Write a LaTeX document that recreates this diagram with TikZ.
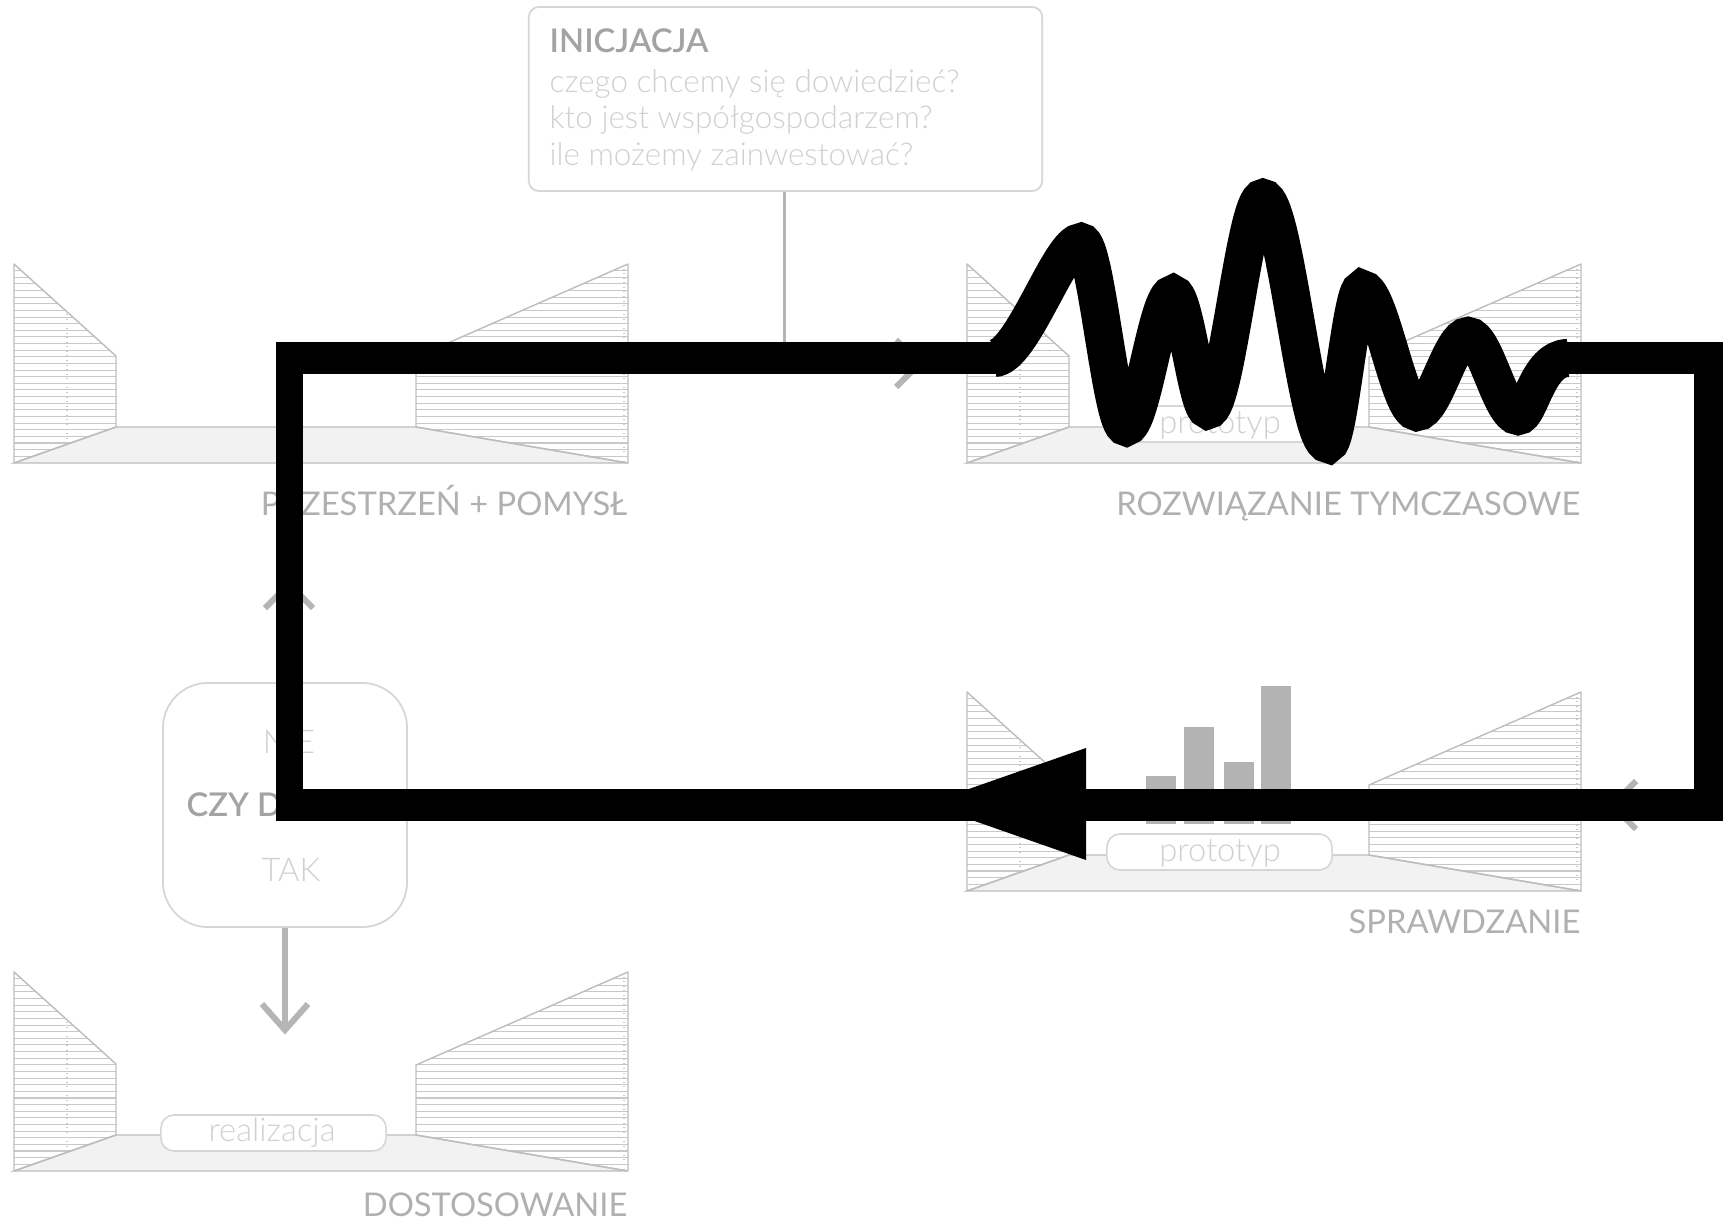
\documentclass[tikz,border=0pt]{standalone}
\usepackage{fontspec}
\setmainfont{Lato}
\newfontfamily\latolight{Lato Light}
\newfontfamily\latosemi{Lato Semibold}
\usetikzlibrary{calc}
\definecolor{cRoom}{HTML}{BDBDBD}
\definecolor{cHatch}{HTML}{C8C8C8}
\definecolor{cFloor}{HTML}{F2F2F2}
\definecolor{cLabel}{HTML}{B0B0B0}
\definecolor{cHead}{HTML}{A3A3A3}
\definecolor{cLight}{HTML}{D0D0D0}
\definecolor{cBox}{HTML}{D6D6D6}
\definecolor{cArrow}{HTML}{B5B5B5}
\definecolor{cBar}{HTML}{B3B3B3}

\newcommand\roomdraw[2]{%
\begin{scope}[shift={(#1,#2)}]
  \begin{scope}
    \clip (0,0) -- (102,92) -- (102,163) -- (0,199) -- cycle;
    \foreach \k in {1,...,30} \draw[hatchline] (0,\k*6.63) -- (102,\k*6.63);
    \draw[hatchline,densely dotted] (53,0) -- (53,199);
  \end{scope}
  \begin{scope}
    \clip (614,0) -- (402,93) -- (402,163) -- (614,199) -- cycle;
    \foreach \k in {1,...,30} \draw[hatchline] (402,\k*6.63) -- (614,\k*6.63);
    \draw[hatchline,densely dotted] (610,0) -- (610,199);
  \end{scope}
  \path[floorfill] (102,163) -- (402,163) -- (614,199) -- (0,199) -- cycle;
  \draw[roomline] (0,0) -- (102,92) -- (102,163) -- (0,199) -- cycle;
  \draw[roomline] (614,0) -- (402,93) -- (402,163) -- (614,199) -- cycle;
\end{scope}}

\begin{document}
\begin{tikzpicture}[x=0.01cm,y=-0.01cm,
  roomline/.style={draw=cRoom,line width=0.4pt,line join=round},
  hatchline/.style={draw=cHatch,line width=0.3pt},
  floorfill/.style={fill=cFloor,draw=cRoom,line width=0.4pt},
  boxstyle/.style={draw=cBox,line width=0.5pt,inner sep=0pt},
  pillbox/.style={draw=cBox,fill=white,line width=0.45pt,rounded corners=1.3mm,minimum width=2.25cm,minimum height=0.36cm,inner sep=0pt},
  txt/.style={inner sep=0pt,font=\fontsize{9.3pt}{11pt}\selectfont},
  labeltext/.style={txt,text=cLabel,anchor=base east},
  lighttext/.style={txt,text=cLight,font=\latolight\fontsize{9.3pt}{11pt}\selectfont},
  questiontext/.style={txt,text=cLight,anchor=base west,font=\latolight\fontsize{8.95pt}{11pt}\selectfont},
  headtext/.style={txt,text=cHead,font=\latosemi\fontsize{9.3pt}{11pt}\selectfont},
  conn/.style={draw=cArrow,line width=0.6mm,line join=miter},
  stem/.style={draw=cArrow,line width=0.3mm},
  bar/.style={fill=cBar},
  loopbar/.style={fill=black},
  wave/.style={draw=black,line width=0.38cm,line cap=butt}]
\useasboundingbox[fill=white] (0,0) rectangle (1723,1221);

% rooms
\roomdraw{14}{264}
\roomdraw{967}{264}
\roomdraw{967}{692}
\roomdraw{14}{972}

% room labels
\node[labeltext] (lab1) at (628,515) {PRZESTRZEŃ + POMYSŁ};
\node[labeltext] (lab2) at (1581,515) {ROZWIĄZANIE TYMCZASOWE};
\node[labeltext] (lab3) at (1581,933) {SPRAWDZANIE};
\node[labeltext] (lab4) at (628,1216) {DOSTOSOWANIE};

% pills
\node[pillbox] (p2) at (1219.5,424) {};
\node[lighttext,anchor=base] (p2t) at (1220,433) {prototyp};
\node[pillbox] (p3) at (1219.5,852) {};
\node[lighttext,anchor=base] (p3t) at (1220,861) {prototyp};
\node[pillbox] (p4) at (273.5,1133) {};
\node[lighttext,anchor=base] (p4t) at (272,1141) {realizacja};

% bars
\fill[bar] (1146,776) rectangle (1176,824);
\fill[bar] (1184,727) rectangle (1214,824);
\fill[bar] (1224,762) rectangle (1254,824);
\fill[bar] (1261,686) rectangle (1291,824);

% INICJACJA box
\node[boxstyle,rounded corners=1mm,minimum width=5.13cm,minimum height=1.84cm] (inic) at (785.5,99) {};
\node[headtext,anchor=base west] (inich) at (549,52.5) {INICJACJA};
\node[questiontext] (q1) at (549,93) {czego chcemy się dowiedzieć?};
\node[questiontext] (q2) at (549,129) {kto jest współgospodarzem?};
\node[questiontext] (q3) at (549,166) {ile możemy zainwestować?};
\coordinate (j1) at (784,363);
\draw[stem] (inic.south -| j1) -- (j1);

% decision box
\node[boxstyle,rounded corners=4.5mm,minimum width=2.44cm,minimum height=2.44cm] (czy) at (285,805) {};
\node[lighttext,anchor=base] (nie) at (289,753) {NIE};
\node[headtext,anchor=base west] (czyt) at (186,816) {CZY DALEJ?};
\node[lighttext,anchor=base] (tak) at (291,881) {TAK};

% grey arrows
\coordinate (t1) at (285,1030);
\draw[conn] (czy.south) -- (t1);
\draw[conn] ($(t1)+(-23,-26)$) -- (t1) -- ($(t1)+(23,-26)$);
\coordinate (t2) at (289,584);
\draw[conn] (czy.north -| t2) -- (t2);
\draw[conn] ($(t2)+(-24,24)$) -- (t2) -- ($(t2)+(24,24)$);
\coordinate (t3) at (920,363);
\coordinate (s3) at (628,363);
\draw[conn] (s3) -- (t3);
\draw[conn] ($(t3)+(-24,-23)$) -- (t3) -- ($(t3)+(-24,24)$);
\coordinate (t4) at (1612,805);
\coordinate (s4) at (1690,805);
\draw[conn] (s4) -- (t4);
\draw[conn] ($(t4)+(24,-24)$) -- (t4) -- ($(t4)+(24,24)$);

% black loop
\fill[loopbar] (276,342) rectangle (1002,374);
\fill[loopbar] (1562,342) rectangle (1730,374);
\fill[loopbar] (276,342) rectangle (303,821);
\fill[loopbar] (1694,342) rectangle (1730,821);
\fill[loopbar] (276,789) rectangle (1730,821);
% wave
\draw[wave] (994,358)
  .. controls (1022,358) and (1060,242) .. (1081,242)
  .. controls (1096,242) and (1111,427) .. (1126,427)
  .. controls (1142,427) and (1157,294) .. (1173,294)
  .. controls (1185,294) and (1197,410) .. (1208,410)
  .. controls (1226,410) and (1245,198) .. (1263,198)
  .. controls (1285,198) and (1306,444) .. (1328,444)
  .. controls (1339,444) and (1351,289) .. (1362,289)
  .. controls (1380,289) and (1399,412) .. (1417,412)
  .. controls (1434,412) and (1451,336) .. (1468,336)
  .. controls (1485,336) and (1501,416) .. (1518,416)
  .. controls (1530,416) and (1537,358) .. (1568,358);
% arrow head
\fill[black] (1086,748) -- (1086,860) -- (926,804) -- cycle;
\end{tikzpicture}
\end{document}
